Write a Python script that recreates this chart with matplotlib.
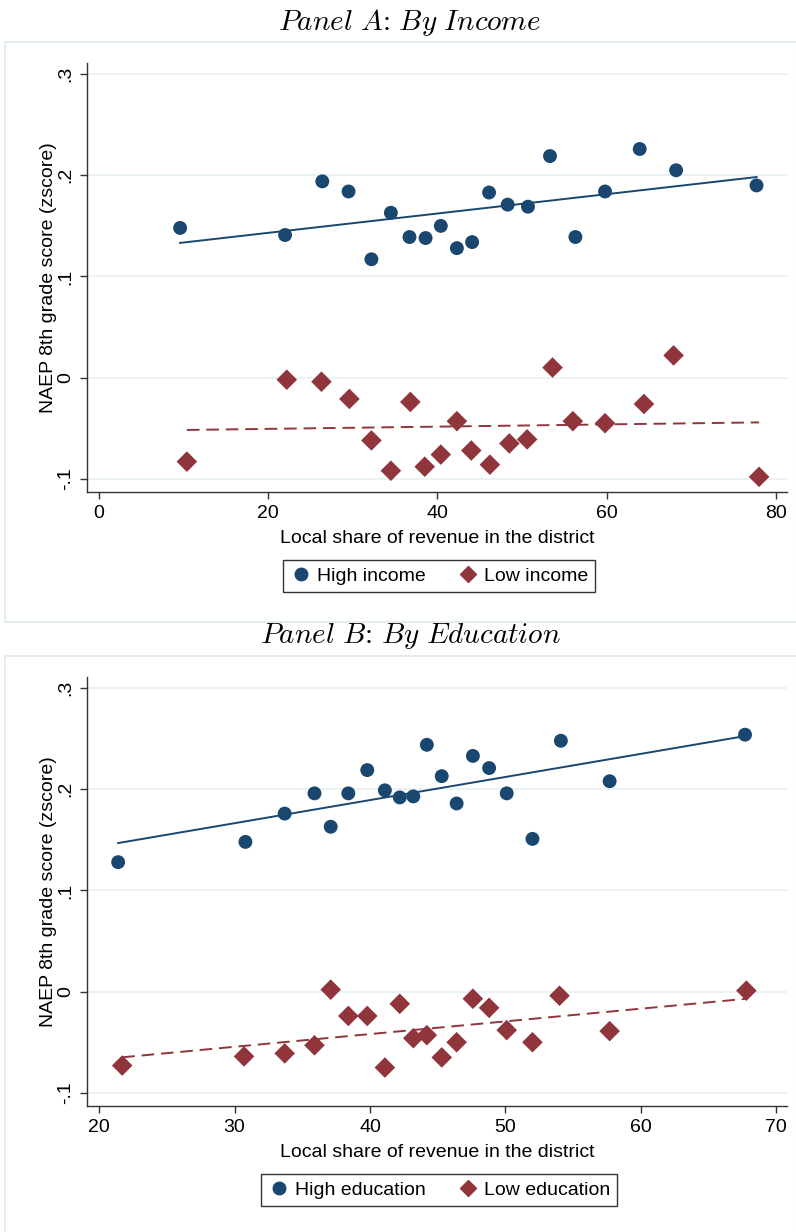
import matplotlib.pyplot as plt
import numpy as np
from matplotlib.patches import Rectangle
from matplotlib.lines import Line2D

plt.rcParams['font.family'] = ['Liberation Sans', 'DejaVu Sans']
plt.rcParams['mathtext.fontset'] = 'cm'

# Panel A: by income
inc_hi_x = [9.6, 22.0, 26.4, 29.5, 32.2, 34.5, 36.7, 38.6, 40.4, 42.3,
            44.1, 46.1, 48.3, 50.7, 53.3, 56.3, 59.8, 63.9, 68.2, 77.7]
inc_hi_y = [0.148, 0.141, 0.194, 0.184, 0.117, 0.163, 0.139, 0.138, 0.150, 0.128,
            0.134, 0.183, 0.171, 0.169, 0.219, 0.139, 0.184, 0.226, 0.205, 0.190]
inc_lo_x = [10.4, 22.2, 26.3, 29.6, 32.2, 34.5, 36.8, 38.5, 40.4, 42.3,
            44.0, 46.2, 48.5, 50.6, 53.6, 56.0, 59.8, 64.4, 67.9, 78.0]
inc_lo_y = [-0.083, -0.002, -0.004, -0.021, -0.062, -0.092, -0.024, -0.088, -0.076, -0.043,
            -0.072, -0.086, -0.065, -0.061, 0.010, -0.043, -0.045, -0.026, 0.022, -0.098]

# Panel B: by education
edu_hi_x = [21.4, 30.8, 33.7, 35.9, 37.1, 38.4, 39.8, 41.1, 42.2, 43.2,
            44.2, 45.3, 46.4, 47.6, 48.8, 50.1, 52.0, 54.1, 57.7, 67.7]
edu_hi_y = [0.128, 0.148, 0.176, 0.196, 0.163, 0.196, 0.219, 0.199, 0.192, 0.193,
            0.244, 0.213, 0.186, 0.233, 0.221, 0.196, 0.151, 0.248, 0.208, 0.254]
edu_lo_x = [21.7, 30.7, 33.7, 35.9, 37.1, 38.4, 39.8, 41.1, 42.2, 43.2,
            44.2, 45.3, 46.4, 47.6, 48.8, 50.1, 52.0, 54.0, 57.7, 67.8]
edu_lo_y = [-0.073, -0.064, -0.061, -0.053, 0.002, -0.024, -0.024, -0.075, -0.012, -0.046,
            -0.043, -0.065, -0.050, -0.007, -0.016, -0.038, -0.050, -0.004, -0.039, 0.001]

yticks = [-0.1, 0, 0.1, 0.2, 0.3]
ytick_labels = ['-.1', '0', '.1', '.2', '.3']

navy = '#1a476f'
maroon = '#90353b'
grid_c = '#eaf2f3'

fig = plt.figure(figsize=(7.96, 12.32), dpi=100)
W, H = 796, 1232


def fx(px):
    return px / W


def fy(py):
    return 1 - py / H


# outer boxes
fig.patches.append(Rectangle((fx(5), fy(622)), fx(792), (622 - 42) / H, transform=fig.transFigure,
                             fill=False, edgecolor='#e6eded', lw=1.5))
fig.patches.append(Rectangle((fx(5), fy(1240)), fx(792), (1240 - 656) / H, transform=fig.transFigure,
                             fill=False, edgecolor='#e6eded', lw=1.5))


def panel(top, hx, hy, lx, ly, xlim, xticks, title, labels):
    ax = fig.add_axes([fx(87), fy(top + 429), fx(700), 429 / H])
    ax.scatter(hx, hy, s=100, color=navy, edgecolors='none', zorder=3)
    ax.scatter(lx, ly, s=110, marker='D', color=maroon, edgecolors='none', zorder=3)
    for x, y, c, ls in [(hx, hy, navy, '-'), (lx, ly, maroon, (0, (6.5, 3.5)))]:
        b, a = np.polyfit(x, y, 1)
        xx = np.array([min(x), max(x)])
        ax.plot(xx, a + b * xx, color=c, lw=1.4, ls=ls, zorder=2)
    ax.set_xlim(*xlim)
    ax.set_ylim(-0.113, 0.311)
    ax.set_yticks(yticks)
    ax.set_yticklabels(ytick_labels, rotation=90, va='center')
    ax.set_xticks(xticks)
    ax.yaxis.grid(True, color=grid_c, lw=1.5)
    ax.set_axisbelow(True)
    for s in ['top', 'right']:
        ax.spines[s].set_visible(False)
    for s in ['left', 'bottom']:
        ax.spines[s].set_color('#333333')
        ax.spines[s].set_linewidth(1.0)
    ax.tick_params(length=5, width=1, color='#333333', labelsize=14, pad=4)
    ax.set_xlabel('Local share of revenue in the district', fontsize=14, labelpad=6)
    ax.set_ylabel('NAEP 8th grade score (zscore)', fontsize=14, labelpad=0)
    fig.text(fx(410), fy(top - 41), title, fontsize=21, ha='center', va='center')
    handles = [Line2D([], [], ls='none', marker='o', ms=9, color=navy),
               Line2D([], [], ls='none', marker='D', ms=8.5, color=maroon)]
    leg = fig.legend(handles, labels, loc='center', bbox_to_anchor=(fx(439), fy(top + 513)),
                     ncol=2, fontsize=14, frameon=True, fancybox=False, edgecolor='black',
                     handletextpad=0.2, columnspacing=1.6, borderpad=0.35, handlelength=1.2)
    leg.get_frame().set_linewidth(1.0)
    return ax


panel(63, inc_hi_x, inc_hi_y, inc_lo_x, inc_lo_y, (-1.4, 81.3), [0, 20, 40, 60, 80],
      r'$\mathit{Panel\ A}\colon\ \mathit{By\ Income}$', ['High income', 'Low income'])
panel(677, edu_hi_x, edu_hi_y, edu_lo_x, edu_lo_y, (19.1, 70.8), [20, 30, 40, 50, 60, 70],
      r'$\mathit{Panel\ B}\colon\ \mathit{By\ Education}$', ['High education', 'Low education'])

plt.savefig('out.png', dpi=100)
